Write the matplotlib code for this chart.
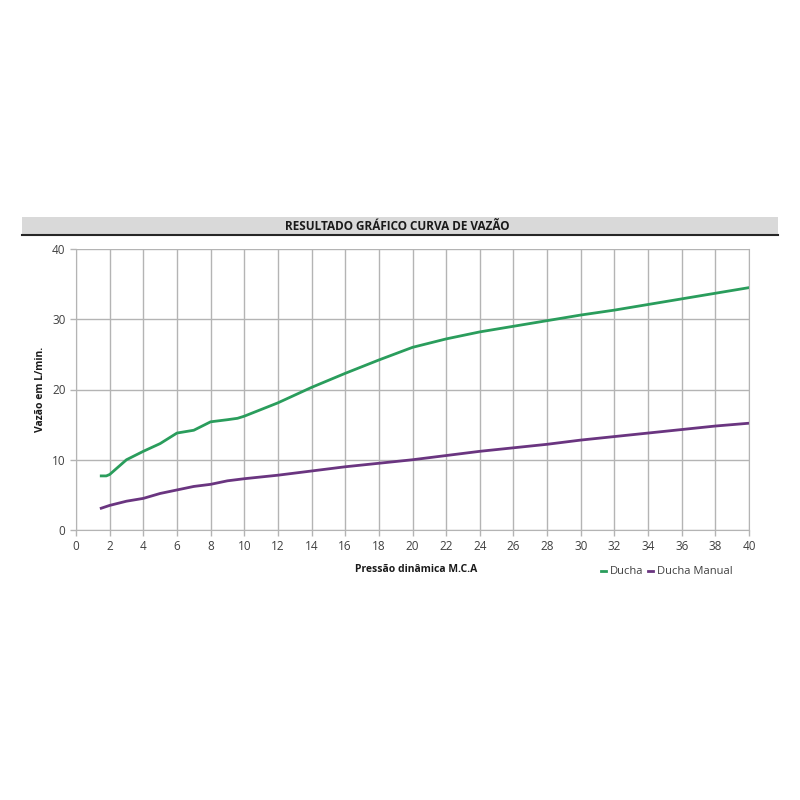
import matplotlib.pyplot as plt
from matplotlib.patches import Rectangle
from matplotlib.lines import Line2D

plt.rcParams['font.family'] = ['Open Sans', 'DejaVu Sans']

# dados
pressao_ducha = [1.5, 1.8, 2, 3, 4, 5, 6, 7, 8, 9, 9.6, 10, 12, 14, 16, 18, 20,
                 22, 24, 26, 28, 30, 32, 34, 36, 38, 40]
vazao_ducha = [7.7, 7.7, 7.9, 10.0, 11.2, 12.3, 13.8, 14.2, 15.4, 15.7, 15.9, 16.2,
               18.1, 20.3, 22.3, 24.2, 26.0, 27.2, 28.2, 29.0, 29.8, 30.6, 31.3,
               32.1, 32.9, 33.7, 34.5]
pressao_manual = [1.5, 2, 3, 4, 5, 6, 7, 8, 9, 10, 12, 14, 16, 18, 20, 22, 24, 26,
                  28, 30, 32, 34, 36, 38, 40]
vazao_manual = [3.1, 3.5, 4.1, 4.5, 5.2, 5.7, 6.2, 6.5, 7.0, 7.3, 7.8, 8.4, 9.0,
                9.5, 10.0, 10.6, 11.2, 11.7, 12.2, 12.8, 13.3, 13.8, 14.3, 14.8, 15.2]

verde = '#2a9d5c'
roxo = '#6a3580'
cinza_grade = '#b4b4b4'
texto = '#404040'

fig = plt.figure(figsize=(8, 8), dpi=100)
fig.patch.set_facecolor('white')

# faixa do título
fig.patches.append(Rectangle((22 / 800, 1 - 235 / 800), 756 / 800, 18 / 800,
                             transform=fig.transFigure, facecolor='#d9d9d9',
                             edgecolor='none', zorder=0))
fig.lines.append(Line2D([22 / 800, 778 / 800], [1 - 235 / 800, 1 - 235 / 800],
                        transform=fig.transFigure, color='#262626', lw=1.5))
fig.text(397 / 800, 1 - 226 / 800, 'RESULTADO GRÁFICO CURVA DE VAZÃO',
         ha='center', va='center', fontsize=8.5, fontweight='bold', color='#1a1a1a')

ax = fig.add_axes([76 / 800, 1 - 530 / 800, 673 / 800, 281 / 800])
ax.plot(pressao_ducha, vazao_ducha, color=verde, lw=2, label='Ducha')
ax.plot(pressao_manual, vazao_manual, color=roxo, lw=2, label='Ducha Manual')

ax.set_xlim(0, 40)
ax.set_ylim(0, 40)
ax.set_xticks(range(0, 41, 2))
ax.set_yticks(range(0, 41, 10))
ax.grid(True, color=cinza_grade, lw=1)
ax.set_axisbelow(True)
ax.spines['top'].set_visible(False)
for lado in ['bottom', 'left', 'right']:
    ax.spines[lado].set_color(cinza_grade)
ax.tick_params(colors=cinza_grade, labelcolor=texto, labelsize=8.5, length=4, width=1)

ax.set_ylabel('Vazão em L/min.', fontsize=7.5, fontweight='bold', color='#1a1a1a',
              labelpad=4)
fig.text(416 / 800, 1 - 569 / 800, 'Pressão dinâmica M.C.A', ha='center',
         va='center', fontsize=7.5, fontweight='bold', color='#1a1a1a')

fig.legend(loc='center', bbox_to_anchor=(667 / 800, 1 - 572 / 800), ncol=2,
           frameon=False, handlelength=0.4, handletextpad=0.4, columnspacing=0.4,
           fontsize=8, labelcolor=texto)

fig.savefig('out.png', dpi=100)
